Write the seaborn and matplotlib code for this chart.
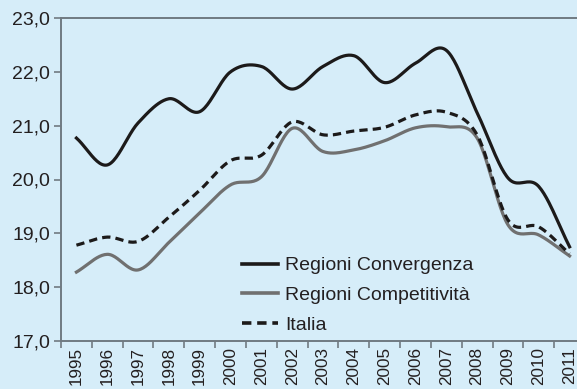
import numpy as np
import pandas as pd
import matplotlib
matplotlib.use("Agg")
import matplotlib.pyplot as plt
from matplotlib.lines import Line2D
import seaborn as sns

years = [str(y) for y in range(1995, 2012)]
convergenza = [20.77, 20.27, 21.05, 21.50, 21.26, 22.00, 22.10, 21.68, 22.10, 22.30,
               21.80, 22.16, 22.40, 21.24, 20.03, 19.87, 18.75]
competitivita = [18.28, 18.61, 18.32, 18.83, 19.38, 19.90, 20.05, 20.95, 20.52, 20.55,
                 20.72, 20.96, 20.98, 20.77, 19.16, 18.97, 18.58]
italia = [18.78, 18.93, 18.85, 19.30, 19.80, 20.35, 20.45, 21.07, 20.83, 20.90,
          20.97, 21.20, 21.25, 20.83, 19.25, 19.12, 18.62]
series_names = ["Regioni Convergenza", "Regioni Competitività", "Italia"]
yticks = [17.0, 18.0, 19.0, 20.0, 21.0, 22.0, 23.0]

BG = "#d6edf9"
AXIS = "#707a82"
colors = ["#1c1a1a", "#707070", "#1c1a1a"]
styles = ["-", "-", (0, (2.6, 1.6))]


def smooth(x, y, n=24):
    """Catmull-Rom curve through the given points (spreadsheet-style smoothed line)."""
    x = np.asarray(x, float)
    y = np.asarray(y, float)
    px = np.concatenate([[2 * x[0] - x[1]], x, [2 * x[-1] - x[-2]]])
    py = np.concatenate([[2 * y[0] - y[1]], y, [2 * y[-1] - y[-2]]])
    xs, ys = [], []
    t = np.linspace(0, 1, n, endpoint=False)
    for i in range(1, len(px) - 2):
        for p, out in ((px, xs), (py, ys)):
            p0, p1, p2, p3 = p[i - 1], p[i], p[i + 1], p[i + 2]
            out.extend(0.5 * (2 * p1 + (-p0 + p2) * t
                              + (2 * p0 - 5 * p1 + 4 * p2 - p3) * t ** 2
                              + (-p0 + 3 * p1 - 3 * p2 + p3) * t ** 3))
    xs.append(x[-1])
    ys.append(y[-1])
    return np.array(xs), np.array(ys)


plt.rcParams["font.family"] = ["Liberation Sans", "DejaVu Sans"]

W, H = 577, 389
fig = plt.figure(figsize=(W / 100, H / 100), dpi=100, facecolor=BG)
ax = fig.add_axes([61 / W, (H - 341) / H, 524 / W, 323 / H], facecolor=BG)

xpos = np.arange(len(years))
for name, vals, c, ls in zip(series_names, [convergenza, competitivita, italia], colors, styles):
    sx, sy = smooth(xpos, vals)
    df = pd.DataFrame({"x": sx, "y": sy})
    sns.lineplot(data=df, x="x", y="y", ax=ax, color=c, linewidth=2.3,
                 linestyle=ls, sort=False, estimator=None, clip_on=False)

ax.set_xlim(-0.5, len(years) - 0.5)
ax.set_ylim(17.0, 23.0)
ax.set_xlabel("")
ax.set_ylabel("")

ax.set_yticks(yticks)
ax.set_yticklabels([f"{v:.1f}".replace(".", ",") for v in yticks], fontsize=14, color="#231f20")
ax.tick_params(axis="y", direction="out", length=5, width=1.2, color=AXIS, pad=3)

ax.set_xticks(xpos)
ax.set_xticklabels(years, rotation=90, fontsize=12.3, color="#231f20", va="top")
ax.set_xticks(np.arange(-0.5, len(years)), minor=True)
ax.tick_params(axis="x", which="major", length=0, pad=4.5)
ax.tick_params(axis="x", which="minor", direction="out", length=5, width=1.2, color=AXIS)

for side in ["left", "bottom", "top"]:
    ax.spines[side].set_color(AXIS)
    ax.spines[side].set_linewidth(1.4)
ax.spines["right"].set_visible(False)

handles = [Line2D([], [], color=c, linewidth=2.6, linestyle=ls) for c, ls in zip(colors, styles)]
leg = ax.legend(handles, series_names, loc="upper left", bbox_to_anchor=(0.33, 0.285),
                frameon=False, fontsize=14, handlelength=1.85, handletextpad=0.4,
                labelspacing=0.62, borderaxespad=0)
for t in leg.get_texts():
    t.set_color("#231f20")

fig.savefig("out.png", dpi=100, facecolor=BG)
